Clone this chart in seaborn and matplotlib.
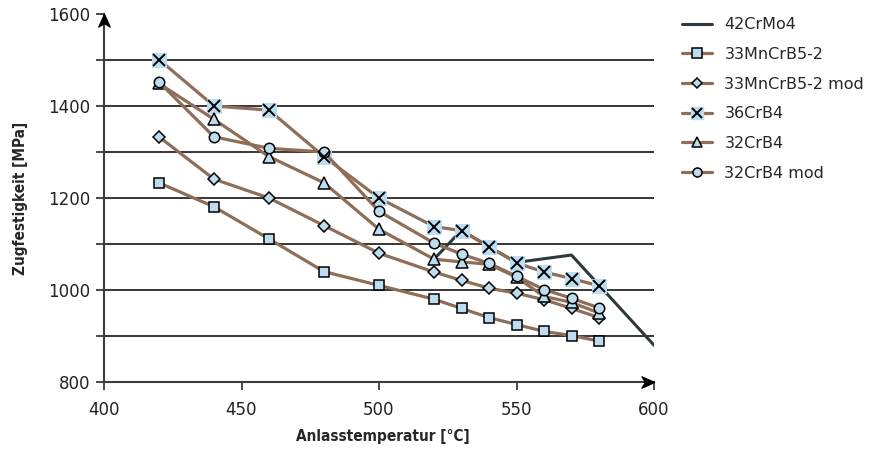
import matplotlib
matplotlib.use("Agg")
import matplotlib.pyplot as plt
import seaborn as sns
from matplotlib.lines import Line2D
from matplotlib.path import Path
from matplotlib.legend_handler import HandlerTuple

# data
temps = [420, 440, 460, 480, 500, 520, 530, 540, 550, 560, 570, 580]
crmo_temps = [520, 530, 540, 550, 570, 600]
crmo = [1067, 1130, 1094, 1060, 1076, 880]
mncrb = [1233, 1181, 1111, 1040, 1010, 980, 960, 940, 925, 910, 901, 889]
mncrb_mod = [1333, 1241, 1200, 1140, 1080, 1039, 1021, 1004, 993, 979, 960, 940]
crb36 = [1501, 1400, 1391, 1290, 1200, 1138, 1129, 1094, 1059, 1039, 1025, 1009]
crb32 = [1449, 1371, 1290, 1233, 1132, 1067, 1061, 1056, 1028, 986, 973, 950]
crb32_mod = [1452, 1333, 1308, 1300, 1171, 1102, 1078, 1058, 1030, 1001, 982, 961]

labels = ["42CrMo4", "33MnCrB5-2", "33MnCrB5-2 mod", "36CrB4", "32CrB4", "32CrB4 mod"]
y_ticks = [800, 900, 1000, 1100, 1200, 1300, 1400, 1500, 1600]
x_ticks = [400, 450, 500, 550, 600]

brown = "#8f6e58"
dark = "#2e393e"
light_blue = "#bcdcf0"

sns.set_style("white")
plt.rcParams["font.family"] = ["DejaVu Sans"]

fig = plt.figure(figsize=(8.79, 4.51), dpi=100)
ax = fig.add_axes([104 / 879, 69 / 451, 550 / 879, 368 / 451])

# 42CrMo4 (dark line, no markers)
sns.lineplot(x=crmo_temps, y=crmo, ax=ax, color=dark, lw=2.2, zorder=2)

line_kw = dict(color=brown, lw=2.3, markeredgecolor="black", markerfacecolor=light_blue,
               markeredgewidth=1.1, zorder=3)
sns.lineplot(x=temps, y=mncrb, ax=ax, marker="s", markersize=7, **line_kw)
sns.lineplot(x=temps, y=mncrb_mod, ax=ax, marker="D", markersize=6, **line_kw)
sns.lineplot(x=temps, y=crb36, ax=ax, marker="s", markersize=10, color=brown, lw=2.3,
             markeredgecolor=light_blue, markerfacecolor=light_blue, zorder=3)
ax.plot(temps, crb36, ls="none", marker="x", markersize=8, mew=1.4, color="black", zorder=4)
sns.lineplot(x=temps, y=crb32, ax=ax, marker="^", markersize=8, **line_kw)
sns.lineplot(x=temps, y=crb32_mod, ax=ax, marker="o", markersize=7.5, **line_kw)

ax.set_xlim(400, 600)
ax.set_ylim(800, 1600)
ax.set_yticks(y_ticks)
ax.set_yticklabels([str(v) if v % 200 == 0 else "" for v in y_ticks])
ax.set_xticks(x_ticks)
ax.set_xticklabels([str(v) for v in x_ticks])
ax.yaxis.get_major_ticks()[-1].tick1line.set_visible(False)
ax.xaxis.get_major_ticks()[-1].tick1line.set_visible(False)
ax.tick_params(axis="both", direction="out", length=6, width=1.3, color="#3c3c3c",
               labelsize=12, labelcolor="#222222", left=True, bottom=True)
ax.tick_params(axis="y", pad=4)
ax.tick_params(axis="x", pad=8)

ax.yaxis.grid(True, color="black", lw=1.1)
ax.xaxis.grid(False)
ax.get_ygridlines()[0].set_visible(False)
ax.get_ygridlines()[-1].set_visible(False)

for s in ["top", "right"]:
    ax.spines[s].set_visible(False)
for s in ["left", "bottom"]:
    ax.spines[s].set_color("#3c3c3c")
    ax.spines[s].set_linewidth(1.5)

# arrow heads on the axes
right_head = Path([(0, 0), (-1, 0.45), (-0.72, 0), (-1, -0.45), (0, 0)],
                  [Path.MOVETO, Path.LINETO, Path.LINETO, Path.LINETO, Path.CLOSEPOLY])
up_head = Path([(0, 0), (0.45, -1), (0, -0.72), (-0.45, -1), (0, 0)],
               [Path.MOVETO, Path.LINETO, Path.LINETO, Path.LINETO, Path.CLOSEPOLY])
ax.plot([1], [0], transform=ax.transAxes, marker=right_head, markersize=18,
        color="black", clip_on=False, zorder=6)
ax.plot([0], [1], transform=ax.transAxes, marker=up_head, markersize=18,
        color="black", clip_on=False, zorder=6)

label_font = dict(family="DejaVu Sans", stretch="condensed", weight="bold", size=11)
ax.set_xlabel("Anlasstemperatur [°C]", fontdict=label_font)
ax.set_ylabel("Zugfestigkeit [MPa]", fontdict=label_font)
ax.xaxis.set_label_coords(279 / 550, -47 / 368)
ax.yaxis.set_label_coords(-76 / 550, 0.5)

# legend
def mk(marker, ms):
    return Line2D([], [], color=brown, lw=2.3, marker=marker, markersize=ms,
                  markerfacecolor=light_blue, markeredgecolor="black", markeredgewidth=1.1)

h_crmo = Line2D([], [], color=dark, lw=2.2)
h_36 = (Line2D([], [], color=brown, lw=2.3, marker="s", markersize=9,
               markerfacecolor=light_blue, markeredgecolor=light_blue),
        Line2D([], [], ls="none", marker="x", markersize=7, mew=1.4, color="black"))
handles = [h_crmo, mk("s", 6.5), mk("D", 5.5), h_36, mk("^", 7), mk("o", 6.5)]
fig.legend(handles, labels, loc="upper left", bbox_to_anchor=(682 / 879, 0.962),
           frameon=False, fontsize=11.5, handlelength=1.9, handletextpad=0.75,
           labelspacing=0.92, borderpad=0, borderaxespad=0,
           handler_map={tuple: HandlerTuple(ndivide=1)})

fig.savefig("out.png", dpi=100)
